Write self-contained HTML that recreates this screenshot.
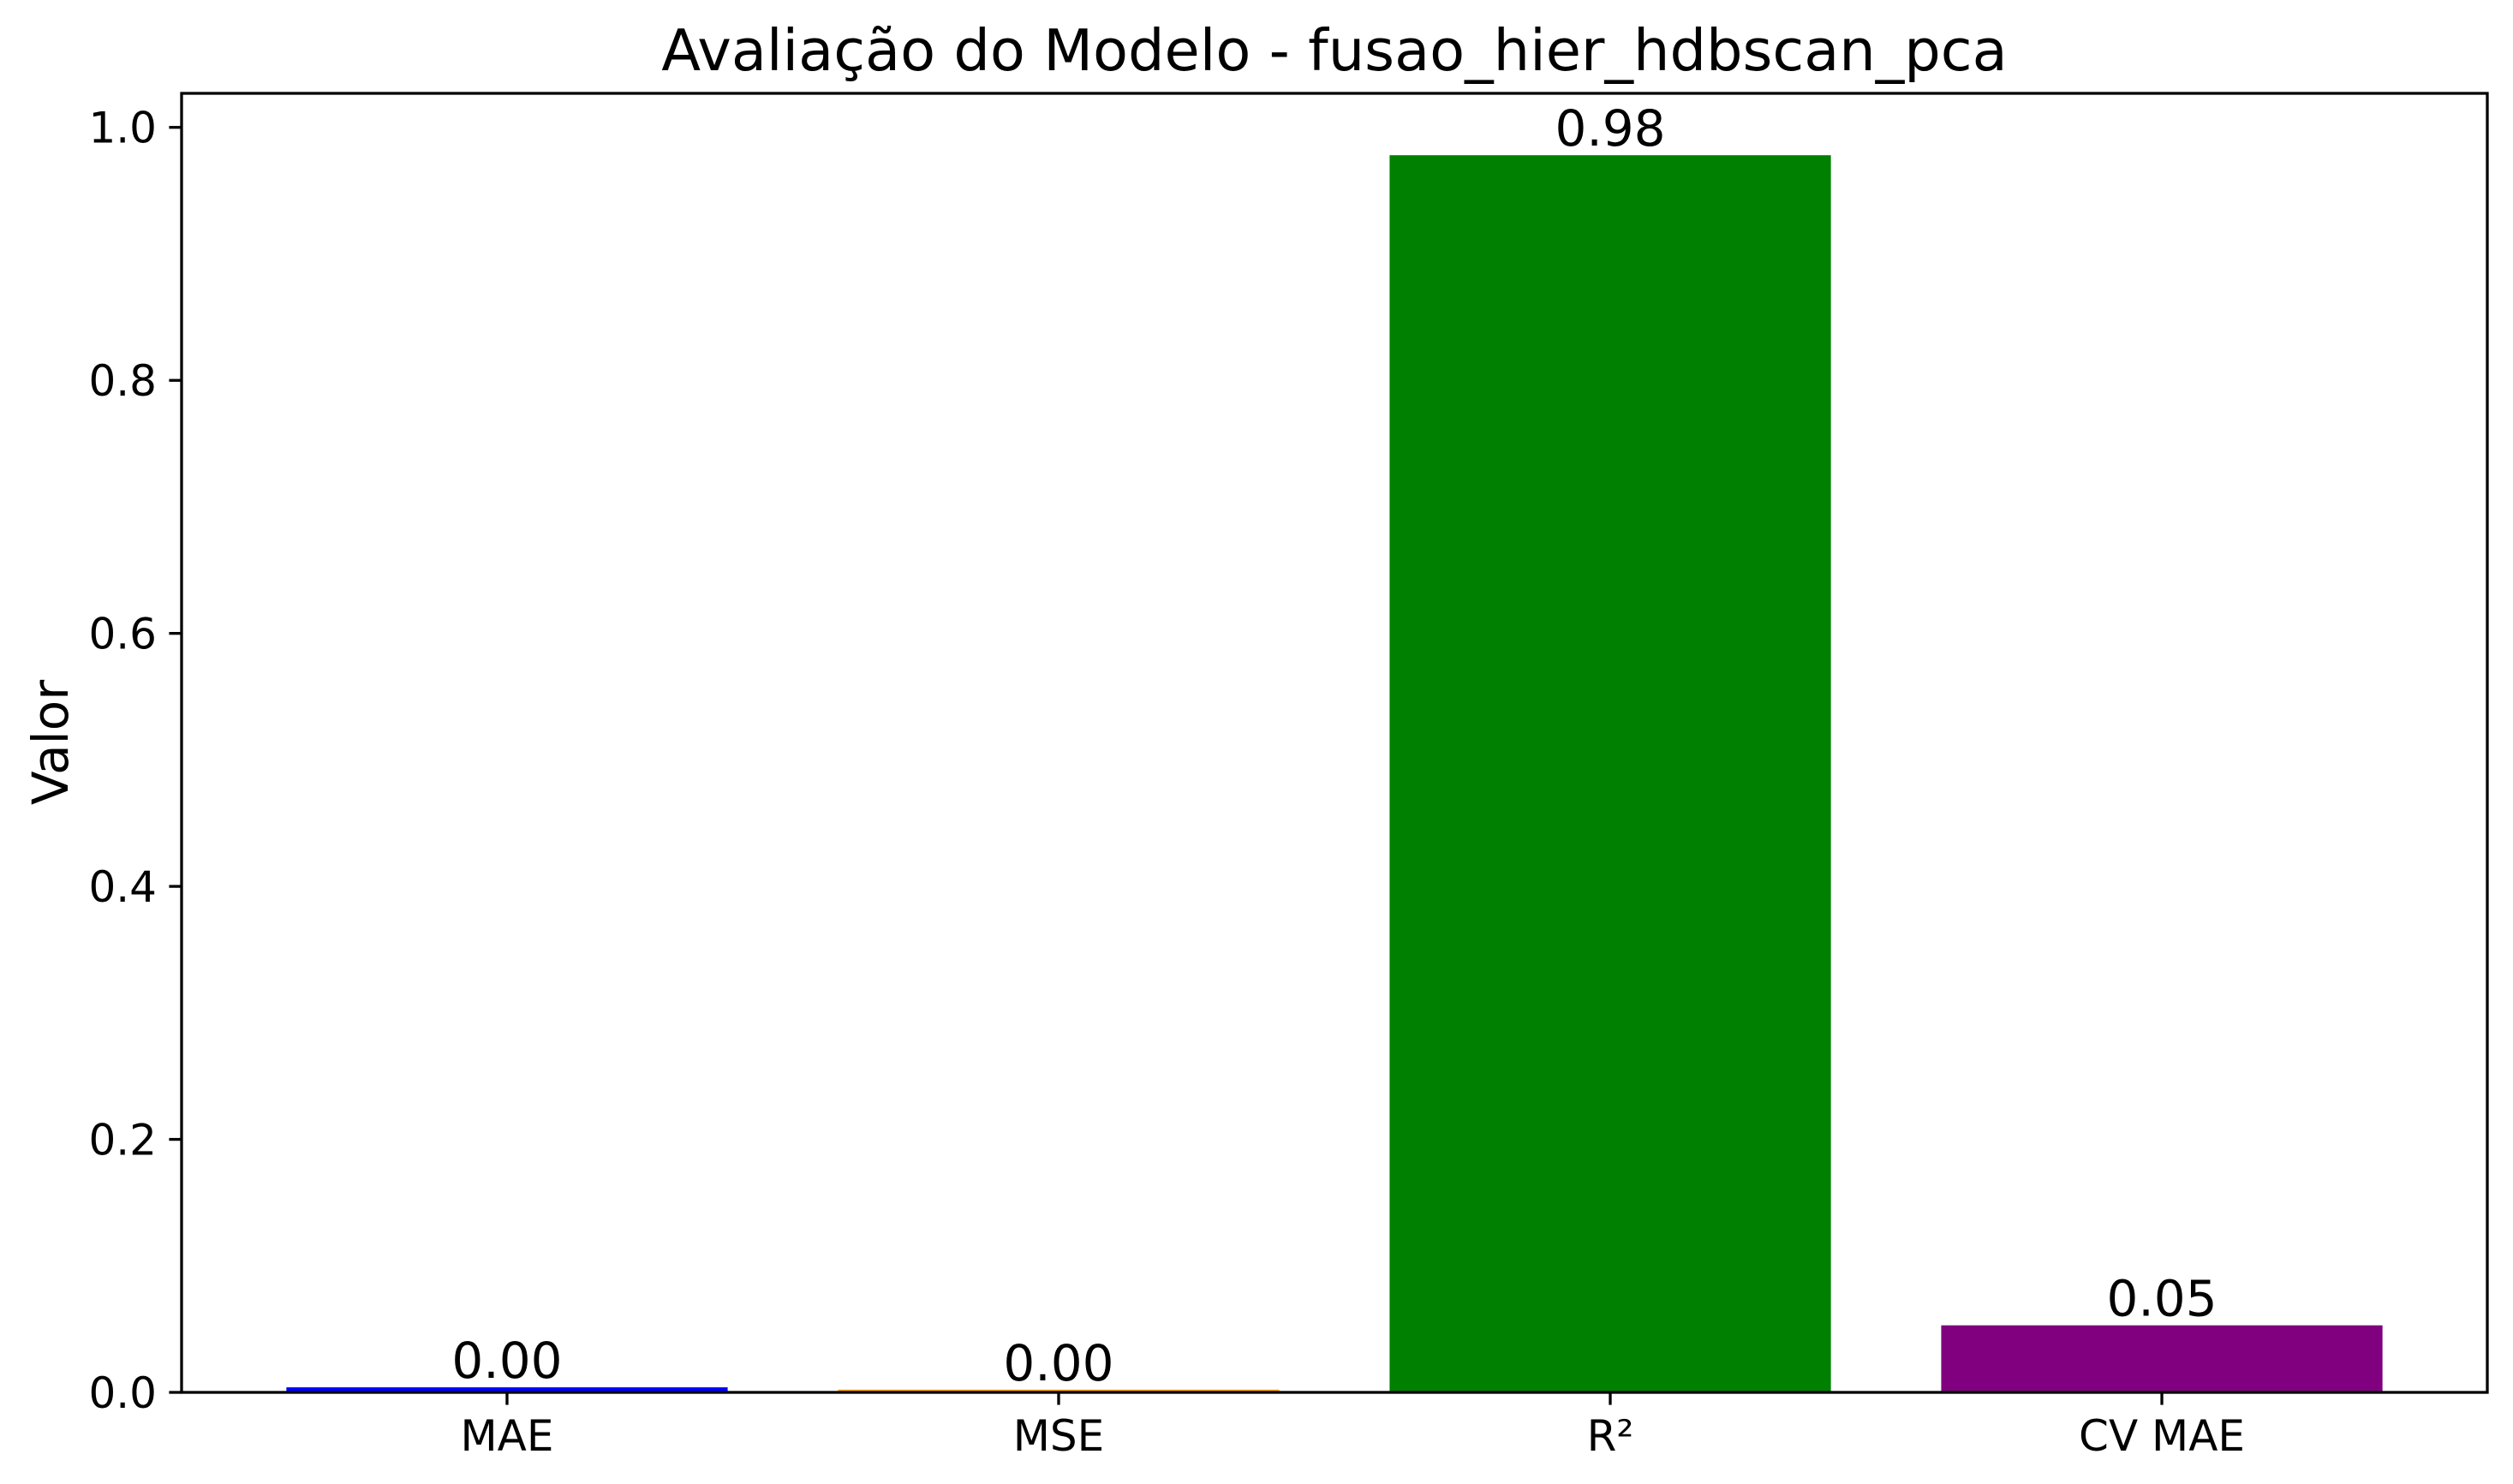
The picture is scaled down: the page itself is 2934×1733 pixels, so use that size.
<!DOCTYPE html>
<html><head><meta charset="utf-8"><style>
html,body{margin:0;padding:0;background:#fff}
svg{display:block;font-family:"DejaVu Sans","Liberation Sans",sans-serif}
</style></head><body>
<svg id="chart" width="2934" height="1733" viewBox="0 0 2934 1733" xmlns="http://www.w3.org/2000/svg">
<rect x="0" y="0" width="2934" height="1733" fill="#fff"/>
<text x="1558" y="82" font-size="67" text-anchor="middle">Avaliação do Modelo - fusao_hier_hdbscan_pca</text>
<text transform="translate(79,867) rotate(-90)" font-size="58" text-anchor="middle">Valor</text>
<g id="bars"></g>
<g id="ticks"></g>
<rect x="212" y="109" width="2692" height="1517" fill="none" stroke="#000" stroke-width="3.3"/>
</svg>
<script>
const categories = ["MAE", "MSE", "R²", "CV MAE"];
const values = [0.004, 0.0022, 0.978, 0.053];
const valueLabels = ["0.00", "0.00", "0.98", "0.05"];
const colors = ["blue", "orange", "green", "purple"];
const yTicks = [0.0, 0.2, 0.4, 0.6, 0.8, 1.0];
const yTickLabels = ["0.0", "0.2", "0.4", "0.6", "0.8", "1.0"];

const L = 212, R = 2904, T = 109, B = 1626;
const xMin = -0.59, xMax = 3.59, yMin = 0, yMax = 1.0269;
const xs = v => L + (v - xMin) / (xMax - xMin) * (R - L);
const ys = v => B - (v - yMin) / (yMax - yMin) * (B - T);
const NS = "http://www.w3.org/2000/svg";
const bars = document.getElementById("bars");
const ticks = document.getElementById("ticks");
function mk(tag, attrs, parent) {
  const e = document.createElementNS(NS, tag);
  for (const k in attrs) e.setAttribute(k, attrs[k]);
  parent.appendChild(e);
  return e;
}
categories.forEach((c, i) => {
  const x0 = xs(i - 0.4), x1 = xs(i + 0.4);
  const y = ys(values[i]);
  const r = mk("rect", {x: x0, y: y, width: x1 - x0, height: Math.max(B - y, 0), fill: colors[i]}, bars);
  
  
  const t = mk("text", {x: xs(i), y: y - 11, "font-size": 58, "text-anchor": "middle"}, bars);
  t.textContent = valueLabels[i];
  
  
  const tk = mk("line", {x1: xs(i), x2: xs(i), y1: B, y2: B + 14.6, stroke: "#000", "stroke-width": 3.3}, ticks);
  
  
  const tl = mk("text", {x: xs(i), y: 1694, "font-size": 50, "text-anchor": "middle"}, ticks);
  tl.textContent = c;
  
  
});
yTicks.forEach((v, i) => {
  const y = ys(v);
  const tk = mk("line", {x1: L - 14.6, x2: L, y1: y, y2: y, stroke: "#000", "stroke-width": 3.3}, ticks);
  
  
  const tl = mk("text", {x: L - 29, y: y + 18, "font-size": 50, "text-anchor": "end"}, ticks);
  tl.textContent = yTickLabels[i];
  
  
});
</script>
</body></html>
